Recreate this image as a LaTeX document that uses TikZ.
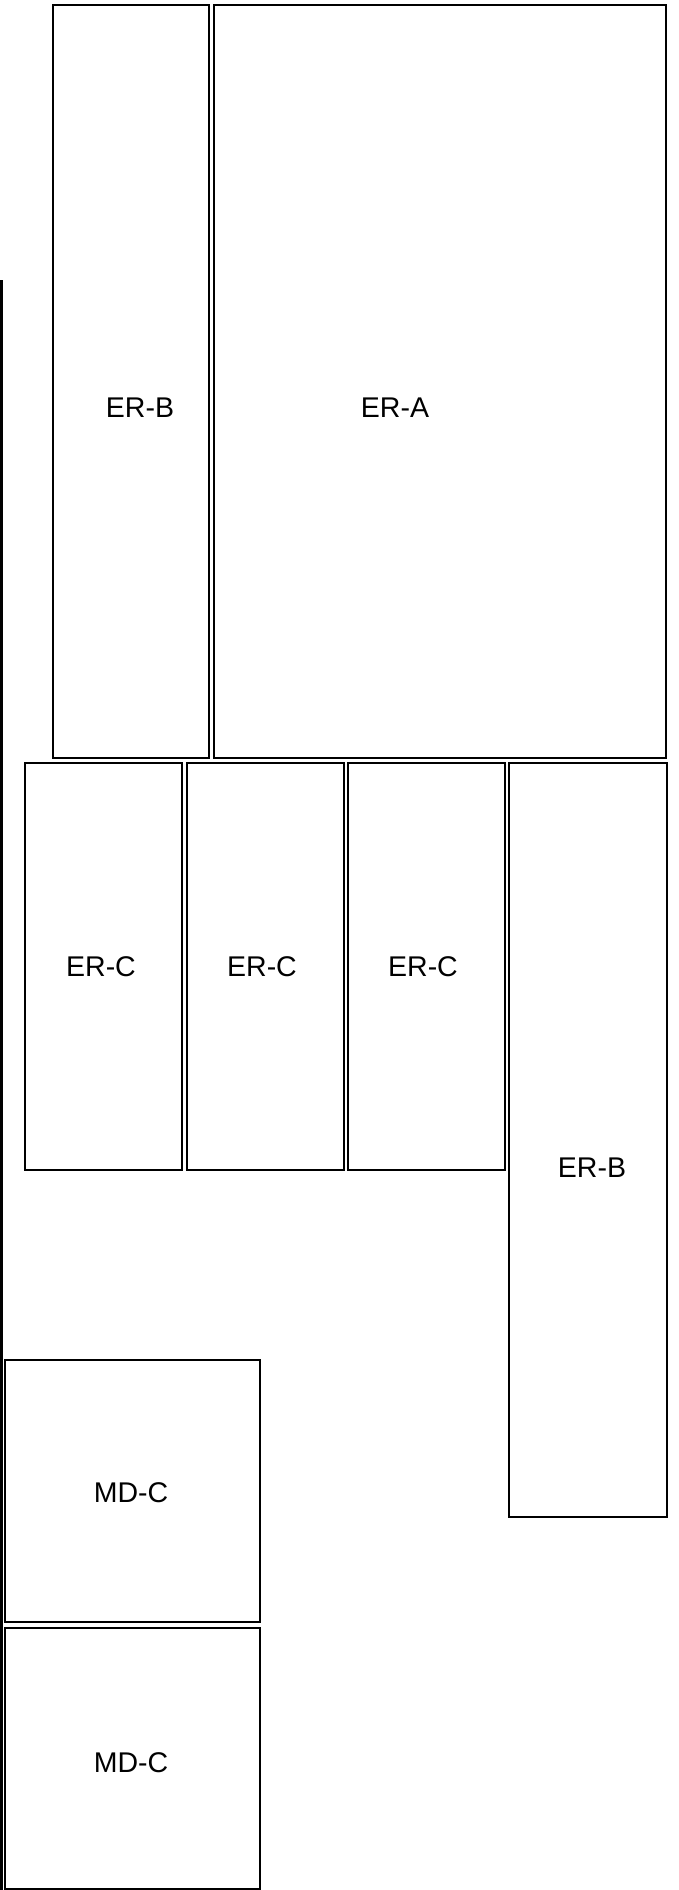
\documentclass[tikz,border=0pt]{standalone}
\usepackage{fontspec}
\setmainfont{Liberation Sans}
\begin{document}
\begin{tikzpicture}[x=1pt,y=-1pt,
  box/.style={draw=black,line width=2.4pt,fill=white,inner sep=0pt,outer sep=0pt,anchor=north west},
  lbl/.style={font=\fontsize{28.5}{32}\selectfont,inner sep=0pt}]
\useasboundingbox (0,0) rectangle (678,1890);
\fill[white] (0,0) rectangle (678,1890);
\coordinate (ltop) at (1.5,280);
\coordinate (lbot) at (1.5,1890);
\draw[line width=2.6pt] (ltop) -- (lbot);
\node[box,minimum width=156pt,minimum height=753pt] (erb1) at (53,5) {};
\node[box,minimum width=452pt,minimum height=753pt] (era) at (214,5) {};
\node[box,minimum width=157pt,minimum height=407pt] (erc1) at (25,763) {};
\node[box,minimum width=157pt,minimum height=407pt] (erc2) at (187,763) {};
\node[box,minimum width=157pt,minimum height=407pt] (erc3) at (348,763) {};
\node[box,minimum width=158pt,minimum height=754pt] (erb2) at (509,763) {};
\node[box,minimum width=255pt,minimum height=262pt] (mdc1) at (5,1360) {};
\node[box,minimum width=255pt,minimum height=261pt] (mdc2) at (5,1628) {};
\node[lbl] (terb1) at (140,408) {ER-B};
\node[lbl] (tera) at (395,408) {ER-A};
\node[lbl] (terc1) at (101,967) {ER-C};
\node[lbl] (terc2) at (262,967) {ER-C};
\node[lbl] (terc3) at (423,967) {ER-C};
\node[lbl] (terb2) at (592,1168) {ER-B};
\node[lbl] (tmdc1) at (131,1493) {MD-C};
\node[lbl] (tmdc2) at (131,1763) {MD-C};
\end{tikzpicture}
\end{document}
